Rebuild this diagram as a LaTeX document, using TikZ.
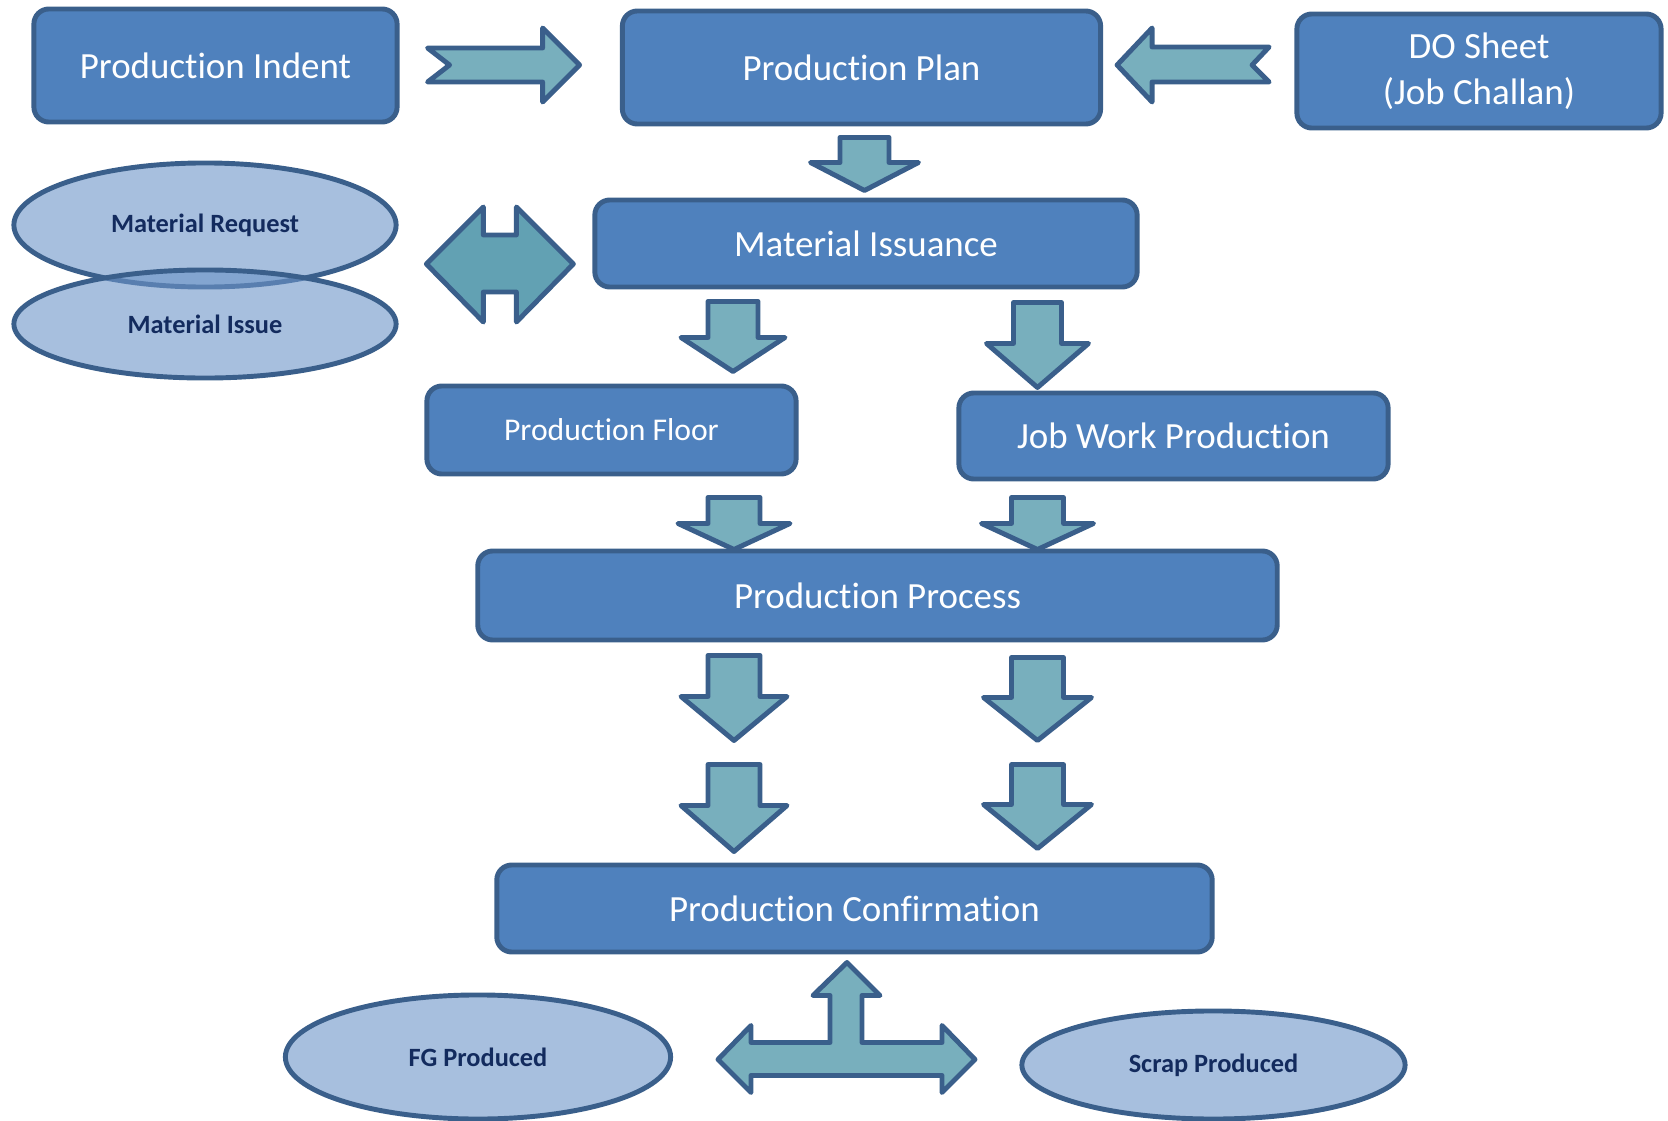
\documentclass[tikz,border=0pt]{standalone}
\usepackage{fontspec}
\setmainfont{Carlito}[Ligatures=NoCommon]
\usetikzlibrary{shapes.geometric,calc}

\definecolor{boxblue}{HTML}{4F81BD}
\definecolor{edgeblue}{HTML}{3A5F8B}
\definecolor{arrowteal}{HTML}{78AFBD}
\definecolor{hteal}{HTML}{62A1B3}
\definecolor{blobblue}{HTML}{A7BFDE}
\definecolor{blobdeep}{HTML}{6C94C8}
\definecolor{inkblue}{HTML}{132B5E}

% down block arrow: top centre, length, head length, shaft half width, head half width
\newcommand{\downblock}[5]{%
  \draw[blockarrow] #1 ++(-#4,0) -- ++(0,{#2-#3}) -- ++({#4-#5},0) -- ++(#5,#3)
    -- ++(#5,-#3) -- ++({#4-#5},0) -- ++(0,{#3-#2}) -- cycle;}

\begin{document}
\begin{tikzpicture}[x=0.01cm,y=-0.01cm,line join=round,
  box/.style={draw=edgeblue,fill=boxblue,line width=1.4pt,rounded corners=0.15cm,
    text=white,font=\fontsize{10.5}{13}\selectfont,align=center,inner sep=0pt},
  blob/.style={ellipse,draw=edgeblue,fill=blobblue,line width=1.4pt,inner sep=0pt,
    text=inkblue,font=\bfseries\fontsize{7.5}{9}\selectfont},
  blockarrow/.style={draw=edgeblue,fill=arrowteal,line width=1.4pt}]
\useasboundingbox (0,0) rectangle (1668,1121);

\node[box,minimum width=3.63cm,minimum height=1.13cm] (indent) at (215.5,65.5) {Production Indent};
\node[box,minimum width=4.78cm,minimum height=1.13cm] (plan) at (861.5,67.5) {Production Plan};
\node[box,minimum width=3.64cm,minimum height=1.14cm] (dosheet) at (1479,71) {DO Sheet\\(Job Challan)};
\node[box,minimum width=5.42cm,minimum height=0.87cm] (issuance) at (866,243.5) {Material Issuance};
\node[box,minimum width=3.69cm,minimum height=0.88cm,font=\fontsize{9}{11}\selectfont] (floor) at (611.5,430) {Production Floor};
\node[box,minimum width=4.29cm,minimum height=0.86cm] (jobwork) at (1173.5,436) {Job Work Production};
\node[box,minimum width=7.99cm,minimum height=0.89cm] (process) at (877.5,595.5) {Production Process};
\node[box,minimum width=7.15cm,minimum height=0.87cm] (confirm) at (854.5,908.5) {Production Confirmation};

\node[blob,minimum width=3.82cm,minimum height=1.24cm] (request) at (205,225) {Material Request};
\node[blob,fill=blobdeep,fill opacity=0.6,text opacity=1,minimum width=3.82cm,minimum height=1.08cm] (issue) at (205,324) {Material Issue};
\node[blob,minimum width=3.85cm,minimum height=1.24cm] (fg) at (478,1057) {FG Produced};
\node[blob,minimum width=3.83cm,minimum height=1.08cm] (scrap) at (1213.5,1065) {Scrap Produced};

% side arrows into the plan
\draw[blockarrow] ($(indent.east)+(28,-17.5)$) -- ++(115,0) -- ++(0,-20) -- ++(37,37)
  -- ++(-37,37) -- ++(0,-20) -- ++(-115,0) -- ++(22,-17) -- cycle;
\draw[blockarrow] ($(plan.east)+(166,-20.5)$) -- ++(-117,0) -- ++(0,-19) -- ++(-35,37)
  -- ++(35,37) -- ++(0,-20) -- ++(117,0) -- ++(-17,-17) -- cycle;

% request / issue exchange
\draw[blockarrow,fill=hteal] ($(issuance.west)+(-166,20.5)$) -- ++(57,-57) -- ++(0,28) -- ++(33,0)
  -- ++(0,-28) -- ++(57,57) -- ++(-57,58) -- ++(0,-30) -- ++(-33,0) -- ++(0,30) -- cycle;

\coordinate (colL) at (734,0);
\coordinate (colR) at (1037.5,0);

\downblock{($(plan.south)+(3,11)$)}{53}{28}{24.5}{54}
\downblock{($(colL |- issuance.south)+(-1,12)$)}{70}{34}{25}{52}
\downblock{($(colR |- issuance.south)+(0,13)$)}{85}{44}{24}{51}
\downblock{($(colL |- floor.south)+(0,21)$)}{52}{26}{26}{56}
\downblock{($(colR |- jobwork.south)+(0,16)$)}{52}{26}{26}{56}
\downblock{($(colL |- process.south)+(0,13)$)}{85}{44}{26}{53}
\downblock{($(colR |- process.south)+(0,15)$)}{83}{43}{26}{54}
\downblock{($(colL |- confirm.north)+(0,-98)$)}{87}{46}{26}{53}
\downblock{($(colR |- confirm.north)+(0,-98)$)}{84}{44}{26}{54}

% confirmation out to fg and scrap
\draw[blockarrow] ($(confirm.south)+(-7.5,8)$) -- ++(33,33) -- ++(-18,0) -- ++(0,47) -- ++(80,0)
  -- ++(0,-17) -- ++(33,34) -- ++(-33,33) -- ++(0,-17) -- ++(-191,0) -- ++(0,17) -- ++(-33,-33)
  -- ++(33,-34) -- ++(0,17) -- ++(79,0) -- ++(0,-47) -- ++(-17,0) -- cycle;
\end{tikzpicture}
\end{document}
